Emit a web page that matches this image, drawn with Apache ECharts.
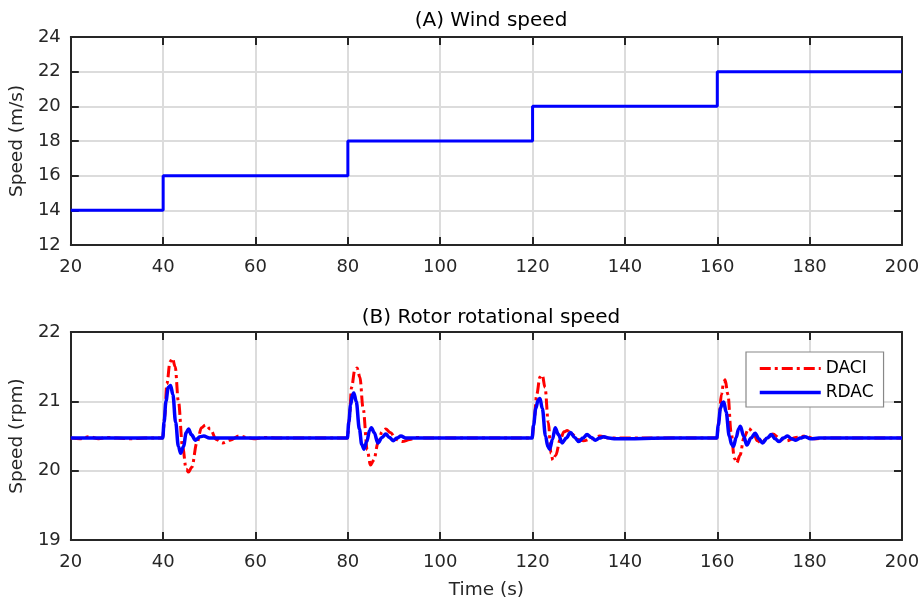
<!DOCTYPE html>
<html><head><meta charset="utf-8">
<script src="https://cdn.jsdelivr.net/npm/echarts@6/dist/echarts.min.js"></script>
<style>html,body{margin:0;padding:0;background:#fff}#c{width:924px;height:605px}</style>
</head><body><div id="c"></div>
<script>
// Panel A: wind speed steps
const windTimes = [20, 40, 80, 120, 160, 200];
const windSpeed = [14, 16, 18, 20, 22, 22];

// Panel B: rotor speed (rpm), DACI
const daciT = [20,22,24,26,28,30,33,36,39.9,
 40.3,40.8,41.5,42.0,42.6,43.3,44.2,45.0,45.5,46.2,47.3,48.3,49.2,50.2,51.5,52.9,54.5,56.5,58.5,60,62,65,70,75,79.9,
 80.3,80.8,81.5,82.0,82.6,83.3,84.2,84.9,85.6,86.6,87.4,88.2,89.2,90.5,91.8,93.4,95,97,100,110,119.9,
 120.3,120.9,121.6,122.1,122.7,123.4,124.0,124.4,125.0,126.0,126.8,127.5,128.5,129.8,131,132.8,134.5,136.5,140,150,159.9,
 160.3,160.9,161.4,161.7,162.3,163.0,163.7,164.2,164.9,165.8,166.8,167.8,168.7,169.5,170.8,172,173.5,175,177,179,181,184,190,200];
const daciV = [20.47,20.46,20.49,20.46,20.48,20.47,20.46,20.47,20.47,
 20.75,21.25,21.57,21.62,21.50,21.00,20.35,20.02,19.98,20.05,20.40,20.62,20.66,20.60,20.45,20.40,20.44,20.50,20.47,20.46,20.48,20.47,20.47,20.47,20.47,
 20.75,21.20,21.45,21.48,21.35,20.90,20.30,20.08,20.15,20.42,20.56,20.60,20.55,20.45,20.42,20.45,20.48,20.47,20.47,20.47,20.47,
 20.70,21.10,21.35,21.38,21.20,20.70,20.25,20.15,20.22,20.45,20.56,20.58,20.53,20.45,20.43,20.46,20.50,20.47,20.47,20.47,20.47,
 20.70,21.10,21.28,21.31,21.10,20.55,20.18,20.11,20.22,20.48,20.61,20.55,20.43,20.40,20.47,20.53,20.47,20.43,20.48,20.50,20.46,20.47,20.47,20.47];

// Panel B: rotor speed (rpm), RDAC
const rdacT = [20,30,39.9,
 40.2,40.6,41.1,41.6,42.1,42.7,43.3,43.8,44.4,45.0,45.5,46.1,47.0,48.0,48.8,50,55,65,79.9,
 80.2,80.6,81.0,81.3,81.8,82.5,83.0,83.5,84.1,84.7,85.1,85.7,86.5,87.4,88.2,89.0,89.8,90.6,91.5,92.5,94,105,119.9,
 120.2,120.7,121.2,121.6,122.1,122.8,123.3,123.7,124.3,124.9,125.6,126.4,127.3,128.2,129.1,130,130.9,131.8,132.7,133.6,134.5,135.4,136.5,138,150,159.9,
 160.2,160.7,161.1,161.4,161.9,162.6,163.1,163.5,164.1,164.6,165.0,165.7,166.4,167.3,168.2,169.0,169.8,170.8,171.7,172.5,173.4,174.3,175.2,176.1,177,178,179,180.2,182,190,200];
const rdacV = [20.47,20.47,20.47,
 20.70,21.00,21.20,21.23,21.10,20.70,20.35,20.25,20.35,20.55,20.60,20.52,20.44,20.49,20.50,20.47,20.47,20.47,20.47,
 20.70,20.95,21.10,21.12,21.00,20.60,20.38,20.31,20.42,20.58,20.62,20.55,20.40,20.48,20.53,20.48,20.43,20.47,20.50,20.47,20.47,20.47,20.47,
 20.65,20.90,21.02,21.04,20.90,20.50,20.35,20.31,20.45,20.62,20.52,20.40,20.47,20.55,20.48,20.42,20.47,20.52,20.48,20.44,20.47,20.49,20.47,20.46,20.47,20.47,
 20.65,20.90,20.98,20.99,20.85,20.50,20.38,20.35,20.48,20.60,20.64,20.50,20.37,20.47,20.54,20.46,20.40,20.47,20.52,20.46,20.42,20.47,20.50,20.46,20.44,20.47,20.49,20.46,20.47,20.47,20.47];

const xTicks = {min: 20, max: 200, interval: 20};
const yTicksA = {min: 12, max: 24, interval: 2};
const yTicksB = {min: 19, max: 22, interval: 1};

const zip = (a, b) => a.map((v, i) => [v, b[i]]);
const FONT = '"DejaVu Sans", sans-serif';
const txt = '#262626';
const gridLine = {show: true, lineStyle: {color: '#dcdcdc', width: 2}};
const axLine = {show: true, lineStyle: {color: '#262626', width: 2}};
const tick = {show: true, inside: true, length: 8, lineStyle: {color: '#262626', width: 2}};

function mainX(gi, withName) {
  return Object.assign({type: 'value', gridIndex: gi, position: 'bottom',
    axisLine: axLine, axisTick: tick,
    axisLabel: {color: txt, fontSize: 18, fontFamily: FONT, margin: 13},
    splitLine: gridLine,
    name: withName ? 'Time (s)' : '', nameLocation: 'middle', nameGap: 41,
    nameTextStyle: {color: txt, fontSize: 18.5, fontFamily: FONT}}, xTicks);
}
function mirrorX(gi) {
  return Object.assign({type: 'value', gridIndex: gi, position: 'top',
    axisLine: axLine, axisTick: tick,
    axisLabel: {show: false}, splitLine: {show: false}}, xTicks);
}
function mainY(gi, ticks, name) {
  return Object.assign({type: 'value', gridIndex: gi, position: 'left',
    axisLine: axLine, axisTick: tick,
    axisLabel: {color: txt, fontSize: 18, fontFamily: FONT, margin: 10},
    splitLine: gridLine,
    name: name, nameLocation: 'middle', nameGap: 38, nameRotate: 90,
    nameTextStyle: {color: txt, fontSize: 18.5, fontFamily: FONT}}, ticks);
}
function mirrorY(gi, ticks) {
  return Object.assign({type: 'value', gridIndex: gi, position: 'right',
    axisLine: axLine, axisTick: tick,
    axisLabel: {show: false}, splitLine: {show: false}}, ticks);
}

const chart = echarts.init(document.getElementById('c'), null, {renderer: 'canvas'});
chart.setOption({
  animation: false,
  backgroundColor: '#fff',
  title: [
    {text: '(A) Wind speed', left: 486, top: 6, textAlign: 'center',
     textStyle: {fontSize: 20, fontWeight: 'normal', color: '#000', fontFamily: FONT}},
    {text: '(B) Rotor rotational speed', left: 486, top: 303, textAlign: 'center',
     textStyle: {fontSize: 20, fontWeight: 'normal', color: '#000', fontFamily: FONT}}
  ],
  grid: [
    {left: 69, top: 37, width: 833, height: 208},
    {left: 69, top: 332, width: 833, height: 208}
  ],
  xAxis: [mainX(0, false), mirrorX(0), mainX(1, true), mirrorX(1)],
  yAxis: [mainY(0, yTicksA, 'Speed (m/s)'), mirrorY(0, yTicksA), mainY(1, yTicksB, 'Speed (rpm)'), mirrorY(1, yTicksB)],
  legend: {
    data: [
      {name: 'DACI', lineStyle: {width: 3}},
      {name: 'RDAC', lineStyle: {width: 3.5}}
    ],
    orient: 'vertical', left: 746, top: 352,
    itemWidth: 61, itemHeight: 14, itemGap: 7,
    padding: [8, 10, 6, 12],
    borderColor: '#888', borderWidth: 1.2, backgroundColor: '#fff',
    itemStyle: {opacity: 0},
    textStyle: {fontSize: 17, color: '#000', fontFamily: FONT}
  },
  series: [
    {type: 'line', name: 'Wind', xAxisIndex: 0, yAxisIndex: 0, step: 'end',
     data: zip(windTimes, windSpeed), symbol: 'none',
     lineStyle: {color: '#0000ff', width: 3}},
    {type: 'line', name: 'DACI', xAxisIndex: 2, yAxisIndex: 2, smooth: 0.35, smoothMonotone: 'x',
     data: zip(daciT, daciV), symbol: 'none', itemStyle: {color: '#ff0000'},
     lineStyle: {color: '#ff0000', width: 3, type: [11, 4, 3, 4]}},
    {type: 'line', name: 'RDAC', xAxisIndex: 2, yAxisIndex: 2, smooth: 0.35, smoothMonotone: 'x',
     data: zip(rdacT, rdacV), symbol: 'none', itemStyle: {color: '#0000ff'},
     lineStyle: {color: '#0000ff', width: 3.5}}
  ]
});
</script></body></html>
